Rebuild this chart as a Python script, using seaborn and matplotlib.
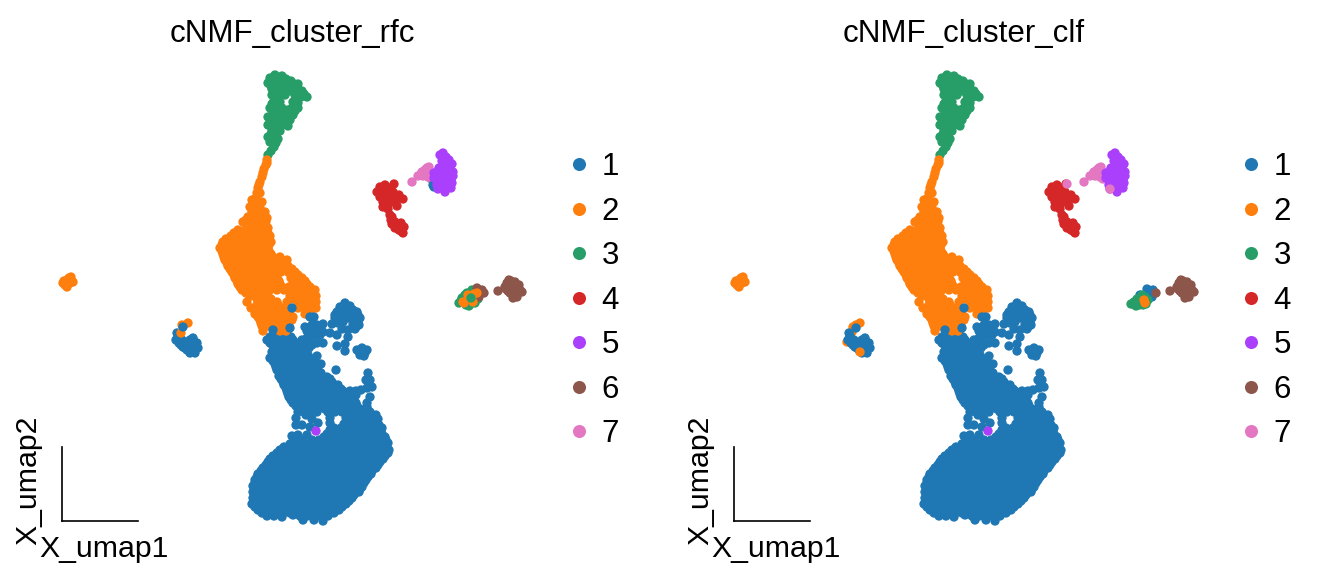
import pandas as pd
import seaborn as sns
import matplotlib.pyplot as plt

clusters = ['1', '2', '3', '4', '5', '6', '7']
colors = ['#1f77b4', '#ff7f0e', '#279e68', '#d62728', '#aa40fc', '#8c564b', '#e377c2']

# embedding positions, (umap1, umap2)
blue_column = [
    (218, 188), (225, 187),
    (205, 181), (211, 182), (218, 181), (225, 182), (231, 181),
    (211, 175), (217, 175), (224, 175), (231, 175), (237, 174),
    (210, 169), (217, 169), (223, 169), (230, 169), (237, 169), (243, 168),
    (208, 163), (215, 163), (222, 163), (229, 163), (236, 163), (243, 163), (250, 162),
    (213, 157), (220, 157), (227, 157), (234, 157), (241, 157), (248, 157), (254, 156),
    (215, 151), (222, 151), (229, 151), (236, 151), (243, 151), (250, 151), (256, 151),
    (217, 145), (224, 145), (231, 145), (238, 145), (245, 145), (252, 145), (259, 145), (265, 144),
    (221, 139), (228, 139), (235, 139), (242, 139), (249, 139), (256, 139), (263, 139), (270, 139),
    (224, 133), (231, 133), (238, 133), (245, 133), (252, 133), (259, 133), (266, 133), (273, 133), (279, 132),
    (294, 130), (299, 131),
    (226, 127), (233, 127), (240, 127), (247, 127), (254, 127), (261, 127), (268, 127), (275, 127), (282, 127), (289, 127), (294, 126),
    (229, 121), (236, 121), (243, 121), (250, 121), (257, 121), (264, 121), (271, 121), (278, 121), (285, 121), (292, 121),
    (234, 115), (241, 115), (248, 115), (254, 115), (261, 115), (268, 115), (275, 115), (282, 115), (289, 115), (295, 115),
    (236, 109), (242, 109), (249, 109), (255, 109), (266, 109), (273, 109), (280, 109), (287, 109), (294, 109), (301, 109), (308, 109),
    (234, 103), (250, 102), (268, 103), (284, 103), (291, 103), (298, 103), (305, 103), (312, 103), (316, 102),
    (234, 96), (240, 96), (248, 94), (256, 98), (268, 98), (282, 97), (289, 97), (296, 97), (303, 97), (310, 97), (317, 96),
    (268, 91), (276, 90), (283, 90), (290, 90), (297, 90), (304, 90), (311, 90), (318, 90),
    (230, 85), (236, 86), (245, 86), (262, 84), (269, 84), (276, 84), (283, 84), (290, 84), (297, 84), (304, 84), (311, 84), (318, 84), (323, 84),
    (208, 184), (215, 184), (222, 184), (229, 184),
    (208, 178), (214, 178), (221, 178), (228, 178), (234, 178),
    (214, 172), (220, 172), (227, 172), (234, 172), (240, 172),
    (213, 166), (220, 166), (226, 166), (233, 166), (240, 166), (246, 166),
    (211, 160), (218, 160), (225, 160), (232, 160), (239, 160), (246, 160), (252, 160),
    (214, 154), (221, 154), (228, 154), (235, 154), (242, 154), (249, 154), (255, 154),
    (218, 148), (225, 148), (232, 148), (239, 148), (246, 148), (253, 148), (259, 148),
    (219, 142), (226, 142), (233, 142), (240, 142), (247, 142), (254, 142), (261, 142), (268, 142),
    (222, 136), (229, 136), (236, 136), (243, 136), (250, 136), (257, 136), (264, 136), (271, 136), (276, 136),
    (225, 130), (232, 130), (239, 130), (246, 130), (253, 130), (260, 130), (267, 130), (274, 130), (281, 130), (288, 130),
    (227, 124), (234, 124), (241, 124), (248, 124), (255, 124), (262, 124), (269, 124), (276, 124), (283, 124), (290, 124),
    (231, 118), (238, 118), (245, 118), (252, 118), (259, 118), (266, 118), (273, 118), (280, 118), (287, 118), (294, 118),
    (238, 112), (245, 112), (252, 112), (263, 112), (270, 112), (277, 112), (284, 112), (291, 112), (298, 112), (305, 112),
    (244, 106), (287, 106), (294, 106), (301, 106), (308, 106), (314, 106),
    (286, 100), (293, 100), (300, 100), (307, 100), (314, 100),
    (272, 93), (279, 93), (286, 93), (293, 93), (300, 93), (307, 93), (314, 93), (320, 93),
    (265, 87), (272, 87), (279, 87), (286, 87), (293, 87), (300, 87), (307, 87), (314, 87), (320, 87),
    (232, 81), (240, 81), (250, 81), (257, 81), (264, 81), (271, 81), (278, 81), (285, 81), (292, 81), (299, 81), (306, 81), (313, 81), (320, 81), (324, 81),
]
blue_side = [
    (283, 218), (278, 214), (288, 215), (275, 209), (281, 209), (288, 209), (295, 209),
    (273, 203), (280, 203), (286, 203), (293, 203), (298, 203), (270, 197), (276, 198),
    (291, 197), (297, 196), (280, 192), (286, 191), (293, 192), (286, 184), (275, 186),
    (275, 175), (283, 177), (283, 170), (295, 171), (300, 173), (305, 171), (298, 166), (303, 168),
    (243, 194), (250, 196), (255, 196), (261, 197), (248, 189), (255, 189), (261, 189), (268, 188),
    (240, 181), (245, 183), (243, 176), (250, 176), (255, 178), (261, 178),
    (255, 165), (259, 157), (274, 151), (306, 148), (308, 141), (304, 141), (310, 134), (305, 133),
    (308, 124), (305, 118), (305, 114),
    (283, 213), (279, 210), (285, 211), (291, 211), (278, 206), (284, 206), (290, 206), (296, 206),
    (275, 200), (281, 199), (273, 206), (296, 199), (294, 194),
    (246, 193), (252, 192), (258, 193), (258, 186), (252, 186), (245, 190), (242, 180), (248, 180), (247, 173),
    (301, 170), (297, 170), (302, 165),
]
blue_blob = [
    (228, 77), (235, 77), (245, 77), (252, 77), (259, 77), (266, 77), (273, 77), (280, 77), (287, 77), (294, 77), (301, 77), (308, 77), (315, 77), (322, 77), (326, 78),
    (218, 71), (225, 71), (232, 71), (239, 71), (246, 71), (253, 71), (260, 71), (267, 71), (274, 71), (281, 71), (288, 71), (295, 71), (302, 71), (309, 71), (316, 71), (323, 71), (327, 71),
    (211, 65), (218, 65), (225, 65), (232, 65), (239, 65), (246, 65), (253, 65), (260, 65), (267, 65), (274, 65), (281, 65), (288, 65), (295, 65), (302, 65), (309, 65), (316, 65), (323, 65),
    (206, 59), (213, 59), (220, 59), (227, 59), (234, 59), (241, 59), (248, 59), (255, 59), (262, 59), (269, 59), (276, 59), (283, 59), (290, 59), (297, 59), (304, 59), (311, 59), (318, 59),
    (201, 53), (208, 53), (215, 53), (222, 53), (229, 53), (236, 53), (243, 53), (250, 53), (257, 53), (264, 53), (271, 53), (278, 53), (285, 53), (292, 53), (299, 53), (306, 53), (314, 53),
    (196, 47), (203, 47), (210, 47), (217, 47), (224, 47), (231, 47), (238, 47), (245, 47), (252, 47), (259, 47), (266, 47), (273, 47), (280, 47), (287, 47), (294, 47), (301, 47), (309, 47),
    (193, 41), (200, 41), (207, 41), (214, 41), (221, 41), (228, 41), (235, 41), (242, 41), (249, 41), (256, 41), (263, 41), (270, 41), (277, 41), (284, 41), (291, 41), (298, 41), (304, 41),
    (191, 35), (198, 35), (205, 35), (212, 35), (219, 35), (226, 35), (233, 35), (240, 35), (247, 35), (254, 35), (261, 35), (268, 35), (275, 35), (282, 35), (289, 35), (296, 35), (300, 34),
    (191, 29), (198, 29), (205, 29), (212, 29), (219, 29), (226, 29), (233, 29), (240, 29), (247, 29), (254, 29), (261, 29), (268, 29), (275, 29), (282, 29), (289, 29), (297, 29),
    (191, 23), (198, 23), (205, 23), (212, 23), (219, 23), (226, 23), (233, 23), (240, 23), (247, 23), (254, 23), (261, 23), (268, 23), (275, 23), (282, 23), (290, 23),
    (190, 17), (197, 17), (204, 17), (211, 17), (218, 17), (225, 17), (232, 17), (239, 17), (246, 17), (253, 17), (260, 17), (267, 17), (274, 17), (284, 17),
    (196, 11), (203, 11), (210, 11), (217, 11), (224, 11), (231, 11), (238, 11), (245, 11), (252, 11), (259, 11), (266, 11), (277, 11),
    (205, 5), (212, 5), (220, 4), (231, 6), (238, 5), (245, 5), (252, 5), (259, 5), (266, 5),
    (241, 1), (252, 1), (261, 0),
    (222, 74), (229, 74), (236, 74), (243, 74), (250, 74), (257, 74), (264, 74), (271, 74), (278, 74), (285, 74), (292, 74), (299, 74), (306, 74), (313, 74), (320, 74),
    (215, 68), (222, 68), (229, 68), (236, 68), (243, 68), (250, 68), (257, 68), (264, 68), (271, 68), (278, 68), (285, 68), (292, 68), (299, 68), (306, 68), (313, 68), (320, 68), (326, 68),
    (208, 62), (215, 62), (222, 62), (229, 62), (236, 62), (243, 62), (250, 62), (257, 62), (264, 62), (271, 62), (278, 62), (285, 62), (292, 62), (299, 62), (306, 62), (313, 62), (321, 62),
    (204, 56), (211, 56), (218, 56), (225, 56), (232, 56), (239, 56), (246, 56), (253, 56), (260, 56), (267, 56), (274, 56), (281, 56), (288, 56), (295, 56), (302, 56), (309, 56), (316, 56),
    (199, 50), (206, 50), (213, 50), (220, 50), (227, 50), (234, 50), (241, 50), (248, 50), (255, 50), (262, 50), (269, 50), (276, 50), (283, 50), (290, 50), (297, 50), (304, 50), (310, 50),
    (195, 44), (202, 44), (209, 44), (216, 44), (223, 44), (230, 44), (237, 44), (244, 44), (251, 44), (258, 44), (265, 44), (272, 44), (279, 44), (286, 44), (293, 44), (300, 44), (306, 44),
    (193, 38), (200, 38), (207, 38), (214, 38), (221, 38), (228, 38), (235, 38), (242, 38), (249, 38), (256, 38), (263, 38), (270, 38), (277, 38), (284, 38), (291, 38), (298, 38), (302, 38),
    (195, 32), (202, 32), (209, 32), (216, 32), (223, 32), (230, 32), (237, 32), (244, 32), (251, 32), (258, 32), (265, 32), (272, 32), (279, 32), (286, 32), (293, 32), (298, 32),
    (195, 26), (202, 26), (209, 26), (216, 26), (223, 26), (230, 26), (237, 26), (244, 26), (251, 26), (258, 26), (265, 26), (272, 26), (279, 26), (286, 26), (292, 26),
    (194, 20), (201, 20), (208, 20), (215, 20), (222, 20), (229, 20), (236, 20), (243, 20), (250, 20), (257, 20), (264, 20), (271, 20), (278, 20), (287, 20),
    (193, 14), (200, 14), (207, 14), (214, 14), (221, 14), (228, 14), (235, 14), (242, 14), (249, 14), (256, 14), (263, 14), (270, 14), (280, 14),
    (200, 8), (207, 8), (214, 8), (221, 8), (228, 8), (235, 8), (242, 8), (249, 8), (256, 8), (263, 8), (272, 8),
]
blue_late = [(211, 191), (228, 193), (230, 213), (248, 204), (252, 204)]
purple_spot = [(254, 90)]

green_main = [
    (208, 443), (213, 446), (220, 445), (206, 438), (212, 438), (218, 439), (223, 438), (229, 440), (236, 437),
    (210, 432), (216, 433), (225, 433), (232, 433), (240, 430), (245, 424), (210, 426), (216, 426), (223, 426),
    (233, 426), (239, 424), (213, 422), (218, 419), (210, 417), (231, 419), (236, 418), (215, 414), (220, 413),
    (230, 413), (236, 413), (211, 409), (218, 408), (225, 408), (231, 406), (206, 404), (213, 403), (220, 402),
    (228, 401), (206, 396), (213, 396), (220, 396), (226, 395), (210, 391), (218, 390), (206, 384), (213, 384),
    (216, 382), (208, 379), (212, 374), (209, 370), (206, 366),
    (210, 441), (216, 442), (224, 442), (232, 437), (209, 435), (215, 436), (221, 436), (227, 436), (236, 431),
    (242, 427), (228, 430), (220, 430), (213, 429), (212, 420), (234, 423), (238, 428), (208, 413), (213, 411),
    (233, 410), (226, 411), (215, 406), (222, 404), (209, 400), (216, 399), (223, 398), (212, 393), (209, 387),
    (214, 388), (210, 381), (214, 378),
]
orange_main = [
    (205, 361), (205, 358), (202, 352), (200, 344), (198, 339), (196, 333), (195, 328), (198, 328),
    (190, 321), (200, 319), (188, 314), (193, 313), (198, 313), (203, 309), (186, 304), (193, 304), (200, 304), (205, 303),
    (181, 299), (188, 298), (195, 298), (201, 296), (206, 293),
    (176, 291), (183, 291), (190, 291), (197, 291), (204, 291),
    (169, 285), (176, 285), (183, 285), (190, 285), (197, 285), (204, 285), (208, 285),
    (161, 279), (168, 279), (175, 279), (182, 279), (189, 279), (196, 279), (203, 279), (209, 279),
    (158, 273), (165, 273), (172, 273), (179, 273), (186, 273), (193, 273), (200, 273), (205, 273),
    (161, 267), (168, 267), (175, 267), (182, 267), (189, 267), (196, 267), (203, 267), (209, 267),
    (163, 261), (170, 261), (177, 261), (184, 261), (191, 261), (198, 261), (205, 261), (212, 261), (219, 261), (225, 261),
    (166, 255), (173, 255), (180, 255), (187, 255), (194, 255), (201, 255), (208, 255), (215, 255), (222, 255), (226, 255),
    (170, 249), (177, 249), (184, 249), (191, 249), (198, 249), (205, 249), (212, 249), (219, 249), (226, 249), (233, 249),
    (173, 243), (180, 243), (187, 243), (194, 243), (201, 243), (208, 243), (215, 243), (229, 243), (236, 243), (240, 243),
    (176, 237), (183, 237), (190, 237), (197, 237), (204, 237), (211, 237), (218, 237), (231, 237), (238, 237), (245, 237),
    (180, 231), (187, 231), (194, 231), (201, 231), (208, 231), (215, 231), (222, 231), (229, 231), (236, 231), (243, 231), (250, 231), (253, 231),
    (188, 225), (194, 225), (201, 225), (206, 225), (228, 225), (236, 225), (243, 225), (250, 225), (254, 225),
    (185, 219), (197, 219), (203, 219), (210, 219), (215, 219), (225, 219), (236, 219), (243, 219), (250, 219), (254, 219),
    (189, 213), (198, 213), (205, 213), (212, 213), (219, 213), (222, 213), (236, 213), (243, 213), (250, 213), (254, 213),
    (193, 207), (200, 207), (207, 207), (214, 207), (221, 207), (228, 207), (243, 207), (248, 207),
    (198, 201), (205, 201), (212, 201), (219, 201), (226, 201), (230, 201),
    (200, 195), (207, 195), (214, 195), (221, 195), (225, 195),
    (201, 190), (218, 190), (224, 190),
    (204, 356), (201, 348), (197, 336), (194, 323), (196, 318), (190, 309), (197, 308), (184, 301), (191, 301), (198, 301), (204, 299),
    (172, 288), (179, 288), (186, 288), (193, 288), (200, 288), (206, 288),
    (164, 282), (171, 282), (178, 282), (185, 282), (192, 282), (199, 282), (206, 282),
    (160, 276), (167, 276), (174, 276), (181, 276), (188, 276), (195, 276), (202, 276), (207, 276),
    (160, 270), (167, 270), (174, 270), (181, 270), (188, 270), (195, 270), (202, 270), (207, 270),
    (162, 264), (169, 264), (176, 264), (183, 264), (190, 264), (197, 264), (204, 264), (211, 264), (218, 264),
    (165, 258), (172, 258), (179, 258), (186, 258), (193, 258), (200, 258), (207, 258), (214, 258), (222, 258),
    (168, 252), (175, 252), (182, 252), (189, 252), (196, 252), (203, 252), (210, 252), (217, 252), (224, 252), (230, 252),
    (172, 246), (179, 246), (186, 246), (193, 246), (200, 246), (207, 246), (215, 246), (229, 246), (236, 246),
    (175, 240), (182, 240), (189, 240), (196, 240), (203, 240), (210, 240), (217, 240), (232, 240), (239, 240), (243, 240),
    (178, 234), (185, 234), (192, 234), (199, 234), (206, 234), (213, 234), (220, 234), (227, 234), (234, 234), (241, 234), (248, 234),
    (184, 228), (191, 228), (198, 228), (205, 228), (232, 228), (239, 228), (246, 228), (252, 228),
    (195, 222), (202, 222), (209, 222), (232, 222), (239, 222), (246, 222), (252, 222),
    (195, 216), (202, 216), (209, 216), (216, 216), (240, 216), (247, 216), (252, 216),
    (197, 210), (204, 210), (211, 210), (218, 210), (225, 210), (246, 210),
    (196, 204), (203, 204), (210, 204), (217, 204), (224, 204), (231, 204),
    (199, 198), (206, 198), (213, 198), (220, 198), (227, 198),
]
orange_island = [(1, 238), (5, 241), (9, 244), (11, 239), (5, 234), (3, 236), (8, 238), (7, 243), (6, 237), (4, 240), (9, 241), (2, 240)]
red_island = [
    (323, 336), (318, 334), (332, 337), (315, 329), (321, 331), (327, 333), (318, 324), (325, 326), (331, 324),
    (337, 326), (341, 322), (321, 319), (328, 319), (334, 321), (335, 315), (321, 314), (326, 312), (330, 304),
    (329, 301), (333, 299), (339, 298), (333, 293), (338, 294), (342, 294), (341, 288), (337, 291),
    (320, 328), (325, 322), (318, 329), (323, 329), (328, 329), (331, 329), (326, 316), (322, 324), (336, 324),
    (329, 323), (333, 297), (336, 296), (330, 297), (339, 290), (335, 296), (328, 306), (340, 295),
]
purple_island = [
    (381, 368), (378, 366), (384, 364), (387, 361), (380, 360), (390, 357), (384, 357), (380, 354), (386, 353),
    (376, 350), (381, 349), (391, 349), (372, 348), (386, 347), (376, 345), (391, 345), (372, 343), (381, 343),
    (386, 341), (377, 340), (390, 338), (375, 336), (381, 337), (385, 334), (389, 333), (376, 332), (383, 329),
    (383, 360), (388, 354), (377, 353), (384, 351), (376, 347), (380, 346), (383, 345), (388, 348), (375, 341),
    (381, 340), (386, 337), (378, 336), (382, 333), (387, 342), (373, 345), (389, 341),
]
pink_island = [(367, 354), (363, 351), (360, 349), (356, 345), (361, 345), (366, 344), (350, 339), (369, 342), (364, 348), (359, 347), (365, 353)]
brown_island = [
    (436, 230), (443, 234), (447, 241), (453, 239), (457, 236), (448, 234), (453, 233),
    (460, 229), (448, 228), (455, 228), (451, 223),
    (450, 237), (445, 238), (451, 231), (456, 232), (458, 231), (452, 226), (444, 232), (446, 230), (455, 224), (449, 240),
]
blue_small = [
    (115, 188), (114, 181), (120, 181), (121, 174), (128, 181), (131, 183),
    (135, 178), (136, 173), (128, 171), (133, 168), (125, 171),
    (116, 185), (117, 178), (119, 176), (123, 173), (126, 176), (130, 176),
    (133, 173), (131, 170), (128, 168), (124, 175), (129, 178), (132, 180),
]

# points whose cluster differs between the two classifiers
rfc_small_orange = [(126, 198), (120, 196), (119, 188)]
rfc_small_blue = [(121, 194)]
rfc_purple_blue = [(371, 336), (372, 334)]
rfc_mix_green = [
    (397, 218), (400, 223), (405, 228), (410, 231), (415, 227), (410, 218), (404, 216), (413, 218), (416, 222), (406, 223),
    (402, 221), (407, 219), (403, 226), (408, 228), (412, 224), (412, 229), (407, 215), (399, 220),
]
rfc_mix_brown = [(415, 233), (420, 231), (422, 228), (417, 224), (418, 229)]
rfc_mix_orange = [(401, 219), (402, 218), (406, 226), (415, 228), (412, 227), (411, 219)]
rfc_mix_green2 = [(409, 223)]

clf_small_orange = [(126, 198), (119, 194), (113, 179), (118, 189), (122, 196)]
clf_small_blue = [(122, 193)]
clf_small_orange2 = [(126, 169)]
clf_pink = [(333, 337), (376, 332)]
clf_mix_blue = [(406, 226), (413, 232), (419, 231), (418, 224), (416, 228)]
clf_mix_green = [
    (399, 217), (404, 219), (409, 216), (414, 221), (408, 226), (411, 224), (402, 215), (405, 216),
    (407, 222), (403, 222), (400, 219), (410, 219), (412, 217), (397, 217),
]
clf_mix_orange = [(410, 221), (411, 218)]
clf_mix_brown = [(422, 228)]

rfc_parts = [
    ('1', blue_column), ('1', blue_side), ('1', blue_blob), ('1', blue_small), ('3', green_main),
    ('2', orange_main), ('2', orange_island), ('2', rfc_small_orange), ('1', rfc_small_blue), ('1', blue_late),
    ('4', red_island), ('7', pink_island), ('1', rfc_purple_blue), ('5', purple_island), ('5', purple_spot),
    ('3', rfc_mix_green), ('6', rfc_mix_brown), ('2', rfc_mix_orange), ('3', rfc_mix_green2), ('6', brown_island),
]
clf_parts = [
    ('1', blue_column), ('1', blue_side), ('1', blue_blob), ('2', clf_small_orange), ('1', blue_small), ('3', green_main),
    ('2', orange_main), ('2', orange_island), ('1', clf_small_blue), ('2', clf_small_orange2), ('1', blue_late),
    ('4', red_island), ('7', pink_island), ('5', purple_island), ('5', purple_spot), ('7', clf_pink),
    ('1', clf_mix_blue), ('3', clf_mix_green), ('2', clf_mix_orange), ('6', clf_mix_brown), ('6', brown_island),
]


def build_frame(parts):
    rows = []
    for cluster, points in parts:
        for x, y in points:
            rows.append({'X_umap1': x, 'X_umap2': y, 'cluster': cluster})
    return pd.DataFrame(rows)


def draw_panel(ax, df, title):
    sns.scatterplot(data=df, x='X_umap1', y='X_umap2', hue='cluster', hue_order=clusters,
                    palette=colors, s=20, linewidth=0, clip_on=False, ax=ax)
    ax.set_xlim(0, 460)
    ax.set_ylim(0, 471)
    ax.set_xticks([])
    ax.set_yticks([])
    sns.despine(ax=ax)
    for side in ['left', 'bottom']:
        ax.spines[side].set_color('black')
        ax.spines[side].set_linewidth(0.8)
    ax.spines['bottom'].set_bounds(0, 76)
    ax.spines['left'].set_bounds(0, 74)
    ax.set_title(title, fontsize=15, pad=4)
    ax.set_xlabel('X_umap1', fontsize=14.5)
    ax.set_ylabel('X_umap2', fontsize=14.5)
    ax.xaxis.set_label_coords(42 / 460, -0.03, transform=ax.transAxes)
    ax.yaxis.set_label_coords(-0.043, 41 / 471, transform=ax.transAxes)
    handles, labels = ax.get_legend_handles_labels()
    ax.legend(handles, labels, loc='center left', bbox_to_anchor=(1.0315, 0.468), frameon=False,
              fontsize=15, markerscale=1.4, labelspacing=0.465, handlelength=0.9, handletextpad=0.28)


sns.set_style('white')
plt.rcParams['font.family'] = ['Liberation Sans', 'DejaVu Sans']
plt.rcParams['text.color'] = 'black'
plt.rcParams['axes.labelcolor'] = 'black'

fig = plt.figure(figsize=(1319 / 150, 584 / 150), dpi=150)
left_ax = fig.add_axes([62 / 1319, 63 / 584, 460 / 1319, 471 / 584])
right_ax = fig.add_axes([734 / 1319, 63 / 584, 460 / 1319, 471 / 584])

draw_panel(left_ax, build_frame(rfc_parts), 'cNMF_cluster_rfc')
draw_panel(right_ax, build_frame(clf_parts), 'cNMF_cluster_clf')

fig.savefig('out.png', dpi=150)
